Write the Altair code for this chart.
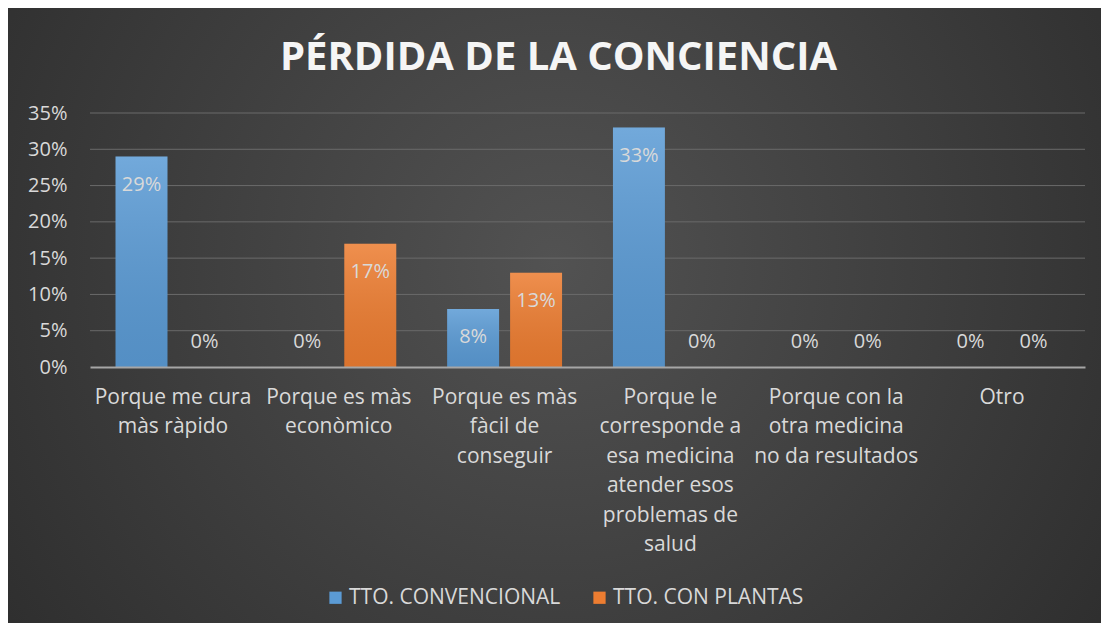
import altair as alt
import pandas as pd

categories = [
    "Porque me cura|màs ràpido",
    "Porque es màs|econòmico",
    "Porque es màs|fàcil de|conseguir",
    "Porque le|corresponde a|esa medicina|atender esos|problemas de|salud",
    "Porque con la|otra medicina|no da resultados",
    "Otro",
]
series = ["TTO. CONVENCIONAL", "TTO. CON PLANTAS"]
convencional = [29, 0, 8, 33, 0, 0]
plantas = [0, 17, 13, 0, 0, 0]
y_ticks = [0, 5, 10, 15, 20, 25, 30, 35]
colors = ["#5b9bd5", "#ed7d31"]

rows = []
for c, a, b in zip(categories, convencional, plantas):
    rows.append({"cat": c, "serie": series[0], "v": a, "lab": f"{a}%"})
    rows.append({"cat": c, "serie": series[1], "v": b, "lab": f"{b}%"})
df = pd.DataFrame(rows)

FONT = "Open Sans"
TXT = "#d9d9d9"

xscale = alt.Scale(domain=categories, paddingInner=0.307, paddingOuter=0.154)
yscale = alt.Scale(domain=[0, 35], nice=False)
offscale = alt.Scale(domain=series, paddingInner=0.175, paddingOuter=0)

x_enc = alt.X("cat:N", sort=categories, scale=xscale,
              axis=alt.Axis(title=None, labelAngle=0, ticks=False, domainColor="#a6a6a6",
                            domainWidth=2, labelColor=TXT, labelFont=FONT, labelFontSize=21,
                            labelExpr="split(datum.label, '|')", labelLineHeight=29.5,
                            labelPadding=19, labelLimit=220, zindex=1))
off_enc = alt.XOffset("serie:N", sort=series, scale=offscale)

y_axis = alt.Axis(title=None, values=y_ticks, tickCount=8, labelExpr="datum.value + '%'",
                  domain=False, ticks=False, grid=False, labelColor=TXT,
                  labelOverlap=False, labelFont=FONT, labelFontSize=20,
                  labelPadding=23, zindex=1)

bg_grad = {
    "gradient": "radial",
    "x1": 0.5, "y1": 0.45, "r1": 0,
    "x2": 0.5, "y2": 0.45, "r2": 0.75,
    "stops": [
        {"offset": 0, "color": "#525252"},
        {"offset": 1, "color": "#262626"},
    ],
}
bar_overlay = {
    "gradient": "linear",
    "x1": 0, "y1": 0, "x2": 0, "y2": 1,
    "stops": [
        {"offset": 0, "color": "rgba(255,255,255,0.14)"},
        {"offset": 1, "color": "rgba(0,0,0,0.08)"},
    ],
}

bg = alt.Chart(pd.DataFrame({"k": [0]})).mark_rect(color=bg_grad).encode(
    x=alt.value(-82), x2=alt.value(1011), y=alt.value(-105), y2=alt.value(510)
)

grid = alt.Chart(pd.DataFrame({"t": y_ticks[1:]})).mark_rule(
    color="#6a6a6a", strokeWidth=1
).encode(y=alt.Y("t:Q", scale=yscale, axis=y_axis))

bars = alt.Chart(df).mark_bar().encode(
    x=x_enc,
    xOffset=off_enc,
    y=alt.Y("v:Q", scale=yscale, axis=y_axis),
    color=alt.Color("serie:N", sort=series,
                    scale=alt.Scale(domain=series, range=colors),
                    legend=alt.Legend(title=None, orient="none", legendX=235, legendY=474,
                                      direction="horizontal", symbolType="square",
                                      symbolSize=150, symbolStrokeWidth=0,
                                      labelFont=FONT, labelFontSize=21, labelColor=TXT,
                                      labelLimit=400, labelOffset=3, columnPadding=28)),
)

overlay = alt.Chart(df).mark_bar(color=bar_overlay).encode(
    x=x_enc, xOffset=off_enc, y=alt.Y("v:Q", scale=yscale, axis=y_axis)
)

lab_in = alt.Chart(df).transform_filter("datum.v > 0").mark_text(
    dy=28, baseline="middle", font=FONT, fontSize=20, color=TXT
).encode(x=x_enc, xOffset=off_enc, y=alt.Y("v:Q", scale=yscale, axis=y_axis), text="lab:N")

lab_zero = alt.Chart(df).transform_filter("datum.v == 0").mark_text(
    dy=-25, baseline="middle", font=FONT, fontSize=20, color=TXT
).encode(x=x_enc, xOffset=off_enc, y=alt.Y("v:Q", scale=yscale, axis=y_axis), text="lab:N")

chart = alt.layer(bg, grid, bars, overlay, lab_in, lab_zero).properties(
    width=995,
    height=254,
    padding={"left": 82, "top": 105, "right": 16, "bottom": 256},
    autosize=alt.AutoSizeParams(type="none"),
    background="#2b2b2b",
    title=alt.TitleParams("PÉRDIDA DE LA CONCIENCIA", font="Open Sans", fontSize=40,
                          fontWeight="bold", color="#f5f5f5", anchor="middle",
                          baseline="alphabetic", dx=-29, offset=-102),
).configure_view(stroke=None)

chart.save("out.html", embed_options={"renderer": "svg", "actions": False})
